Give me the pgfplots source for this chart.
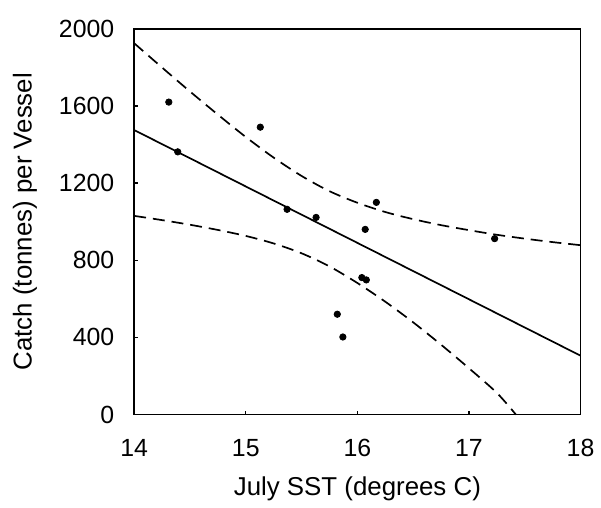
\documentclass[border=0pt]{standalone}
\usepackage{pgfplots}
\pgfplotsset{compat=1.18}
\usepackage{fontspec}
\setmainfont{Liberation Sans}
\begin{document}
\begin{tikzpicture}
\begin{axis}[
  scale only axis,
  width=224.5pt, height=194pt,
  xmin=14, xmax=18, ymin=0, ymax=2000,
  xtick={14,15,16,17,18},
  ytick={0,400,800,1200,1600,2000},
  xtick pos=bottom, ytick pos=left,
  tick align=inside,
  major tick length=2pt,
  axis line style={line width=0.9pt},
  tick style={line width=0.6pt, black},
  /pgf/number format/assume math mode=true,
  /pgf/number format/1000 sep={},
  ticklabel style={font=\fontsize{12.5}{14}\selectfont},
  yticklabel style={xshift=-6.5pt},
  xticklabel style={yshift=-9pt},
  xlabel={July SST (degrees C)},
  ylabel={Catch (tonnes) per Vessel},
  label style={font=\fontsize{13}{15}\selectfont},
  xlabel style={at={(axis description cs:0.5,-0.193)}, anchor=center},
  ylabel style={at={(axis description cs:-0.245,0.5)}, anchor=center, rotate=0},
  clip=false,
]
\path (rel axis cs:-0.3007,-0.2397) rectangle (rel axis cs:1.0379,1.0747);
% regression line
\addplot[black, line width=0.85pt] coordinates {(14,1475) (18,305)};
% upper confidence band
\addplot[black, line width=0.85pt, dash pattern=on 6pt off 3.5pt, smooth] coordinates {
(14.0,1925) (14.25,1799) (14.5,1675) (14.75,1555) (15.0,1439) (15.25,1332)
(15.5,1237) (15.75,1158) (16.0,1098) (16.25,1050) (16.5,1013) (16.75,982)
(17.0,956) (17.25,932) (17.5,912) (17.75,894) (18.0,878)};
% lower confidence band
\addplot[black, line width=0.85pt, dash pattern=on 6pt off 3.5pt, smooth] coordinates {
(14.0,1030) (14.25,1008) (14.5,984) (14.75,957) (15.0,926) (15.25,887)
(15.5,836) (15.75,768) (16.0,682) (16.25,585) (16.5,478) (16.75,362)
(17.0,240) (17.25,112) (17.42,0)};
% observations
\addplot[only marks, mark=*, mark size=1.6pt, black] coordinates {
(14.31,1620) (14.39,1362) (15.13,1490) (15.37,1064) (15.63,1022)
(16.04,710) (16.08,698) (16.07,960) (16.17,1100) (17.23,912)
(15.82,520) (15.87,402)};
\end{axis}
\end{tikzpicture}
\end{document}
